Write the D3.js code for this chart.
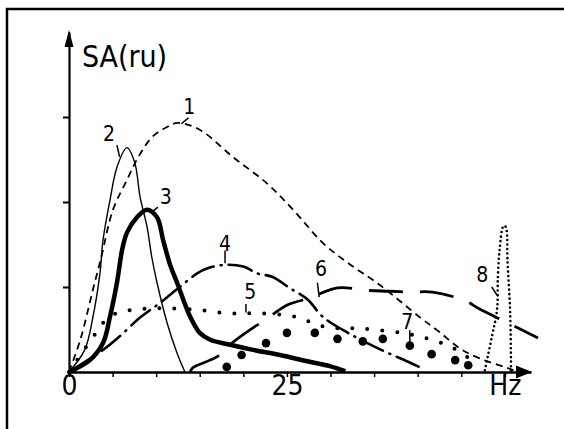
<!DOCTYPE html>
<html>
<head>
<meta charset="utf-8">
<script src="https://cdn.jsdelivr.net/npm/d3@7"></script>
<style>
  body { margin: 0; background: #fff; overflow: hidden; }
  svg { display: block; }
  .lbl { font-family: "Liberation Sans Narrow", "DejaVu Sans Condensed", sans-serif; fill: #000; }
</style>
</head>
<body>
<svg id="chart" width="564" height="429"></svg>
<script>
// spectral amplitude curves, x in Hz, y in relative units (ru)
var curve1 = [[0,0],[1.3,0.38],[2.75,0.97],[3.7,1.35],[5.05,1.91],[6.65,2.26],[7.9,2.52],[9.5,2.76],
  [11.2,2.88],[12.5,2.93],[15,2.85],[18.8,2.53],[22.7,2.22],[25.7,1.91],[29.1,1.52],[31.9,1.29],
  [35.7,1.02],[40.3,0.64],[42.5,0.47],[44.8,0.28],[47.1,0.16],[50.2,0.05],[51,0.02]];
var curve2 = [[0,0],[1.8,0.26],[2.75,0.65],[3.55,1.16],[3.9,1.55],[4.7,2.02],[5.5,2.41],[6.65,2.64],
  [7.55,2.46],[8.15,2.06],[8.95,1.71],[9.5,1.35],[10.1,1.05],[11.25,0.58],[12.4,0.22],[13.3,0]];
var curve3 = [[0,0],[2.4,0.14],[3.9,0.34],[4.7,0.65],[5.5,1.05],[6.1,1.44],[6.65,1.64],[7.8,1.82],
  [8.95,1.91],[10.1,1.82],[10.8,1.55],[11.6,1.26],[12.4,1.05],[13.9,0.65],[15,0.46],[16.2,0.38],
  [18.5,0.32],[21.1,0.26],[24.2,0.2],[27.6,0.12],[29.9,0.07],[31.7,0.01]];
var curve4 = [[0,0],[3.9,0.26],[5.6,0.4],[8.15,0.64],[10.4,0.81],[12.7,1.0],[14.7,1.16],[15.9,1.22],
  [17.9,1.26],[20,1.24],[21.6,1.16],[23.3,1.12],[25.3,0.99],[27.4,0.85],[29.1,0.65],[32,0.46],
  [35.4,0.28],[38.9,0.12],[40.8,0.03]];
var curve5 = [[0,0],[2.75,0.41],[4.5,0.64],[6.1,0.71],[8.15,0.74],[10.8,0.75],[14.8,0.73],[18.5,0.69],
  [21.9,0.69],[25.9,0.65],[29.4,0.53],[33.6,0.51],[38.2,0.46],[40.5,0.41],[42.8,0.34],[44.8,0.24],[46.9,0.08]];
var curve6 = [[13.9,0],[14.2,0.05],[17,0.18],[18.8,0.35],[21.1,0.52],[22.2,0.59],[25.1,0.79],[27.6,0.87],
  [30.8,0.99],[34.2,0.96],[36.8,0.95],[39.1,0.94],[41.7,0.94],[45.4,0.84],[47.1,0.74],[50.3,0.58],[53.8,0.4]];
var curve7 = [[18.1,0.06],[19.8,0.2],[22.6,0.34],[25,0.46],[28.2,0.46],[30.8,0.39],[33.7,0.36],
  [36,0.39],[39.1,0.31],[41.6,0.21],[44.3,0.14],[45.8,0.08]];
var curve8 = [[47.7,0.02],[48.5,0.41],[49.1,0.73],[49.2,1.12],[49.4,1.44],[49.8,1.71],[50,1.72],
  [50.2,1.67],[50.3,1.32],[50.6,0.73],[50.7,0.14],[50.7,0]];

var curveNames = ["1","2","3","4","5","6","7","8"];
var labelPos = [[13.8,3.13],[4.6,2.81],[11.1,2.07],[17.9,1.52],[20.8,0.95],[28.9,1.22],[38.8,0.6],[47.4,1.15]];
var xTicks = [0,5,10,15,20,25,30,35,40,45,50];
var xTickText = {0: "0", 25: "25", 50: "Hz"};
var yTicks = [1,2,3];

var svg = d3.select("#chart");

// frame: only the top and left edges fall inside the picture
svg.append("path").attr("d", "M7,440V9H570")
  .attr("fill", "none").attr("stroke", "#000").attr("stroke-width", 2.5);

var x = d3.scaleLinear().domain([0, 53]).range([69, 531]);
var y = d3.scaleLinear().domain([0, 4]).range([372, 32]);

var line = d3.line().x(function(d) { return x(d[0]); }).y(function(d) { return y(d[1]); })
  .curve(d3.curveCatmullRom.alpha(0.5));

// axes
var xa = svg.append("g").attr("transform", "translate(0," + y(0) + ")")
  .call(d3.axisBottom(x).tickValues(xTicks).tickSize(5).tickSizeOuter(0)
    .tickFormat(function(d) { return xTickText[d] || ""; }));
xa.select(".domain").attr("stroke-width", 2.5);
xa.selectAll(".tick line").attr("stroke-width", 1.5);
xa.selectAll(".tick text").attr("class", "lbl").attr("font-size", 28).attr("dy", "0.55em")
  .attr("y", 8).attr("font-family", null);

var ya = svg.append("g").attr("transform", "translate(" + x(0) + ",0)")
  .call(d3.axisLeft(y).tickValues(yTicks).tickSize(6).tickSizeOuter(0).tickFormat(""));
ya.select(".domain").attr("stroke-width", 2.2);
ya.selectAll(".tick line").attr("stroke-width", 2);

// arrowheads
var ax = x(0), ay = y(4), bx = x(53), by = y(0);
svg.append("path").attr("d", "M" + ax + "," + (ay - 2) + "L" + (ax - 4.5) + "," + (ay + 15) + "L" + (ax + 4.5) + "," + (ay + 15) + "Z");
svg.append("path").attr("d", "M" + (bx + 1) + "," + by + "L" + (bx - 15) + "," + (by - 6.5) + "L" + (bx - 15) + "," + (by + 6.5) + "Z");

svg.append("text").attr("x", 82).attr("y", 67)
  .attr("font-family", "'DejaVu Sans Condensed', 'DejaVu Sans', sans-serif")
  .attr("font-size", 30).attr("textLength", 85).text("SA(ru)");

// curves
var styles = [
  {data: curve1, w: 1.8, dash: "7,5"},
  {data: curve2, w: 1.4, dash: null},
  {data: curve3, w: 4.5, dash: null},
  {data: curve4, w: 2.6, dash: "24,7,1,7", cap: "round"},
  {data: curve5, w: 4, dash: "0,15", cap: "round"},
  {data: curve6, w: 2.8, dash: "34,17"},
  {data: curve8, w: 2.6, dash: "0,4.5", cap: "round"}
];
styles.forEach(function(s) {
  svg.append("path").datum(s.data).attr("d", line)
    .attr("fill", "none").attr("stroke", "#000")
    .attr("stroke-width", s.w)
    .attr("stroke-dasharray", s.dash)
    .attr("stroke-linecap", s.cap || "butt");
});

svg.selectAll("circle.c7").data(curve7).enter().append("circle")
  .attr("class", "c7").attr("cx", function(d) { return x(d[0]); })
  .attr("cy", function(d) { return y(d[1]); }).attr("r", 4.3).attr("fill", "#000");

// curve labels with short leader ticks
svg.selectAll("text.cl").data(curveNames).enter().append("text")
  .attr("class", "lbl cl").attr("font-size", 21).attr("text-anchor", "middle")
  .attr("x", function(d, i) { return x(labelPos[i][0]); })
  .attr("y", function(d, i) { return y(labelPos[i][1]) + 8; })
  .text(function(d) { return d; });

var leaders = [[[13.7,2.99],[12.9,2.92]],[[5.5,2.67],[5.8,2.53]],[[10.2,1.94],[9.5,1.88]],
  [[17.9,1.43],[17.9,1.28]],[[20.3,0.8],[20.3,0.7]],[[28.5,1.05],[28.7,0.88]],
  [[39.1,0.49],[39.1,0.33]],[[48.5,1.0],[49.2,0.89]]];
svg.selectAll("path.ld").data(leaders).enter().append("path")
  .attr("class", "ld").attr("d", d3.line().x(function(d) { return x(d[0]); }).y(function(d) { return y(d[1]); }))
  .attr("stroke", "#000").attr("stroke-width", 1.5).attr("fill", "none");
</script>
</body>
</html>
